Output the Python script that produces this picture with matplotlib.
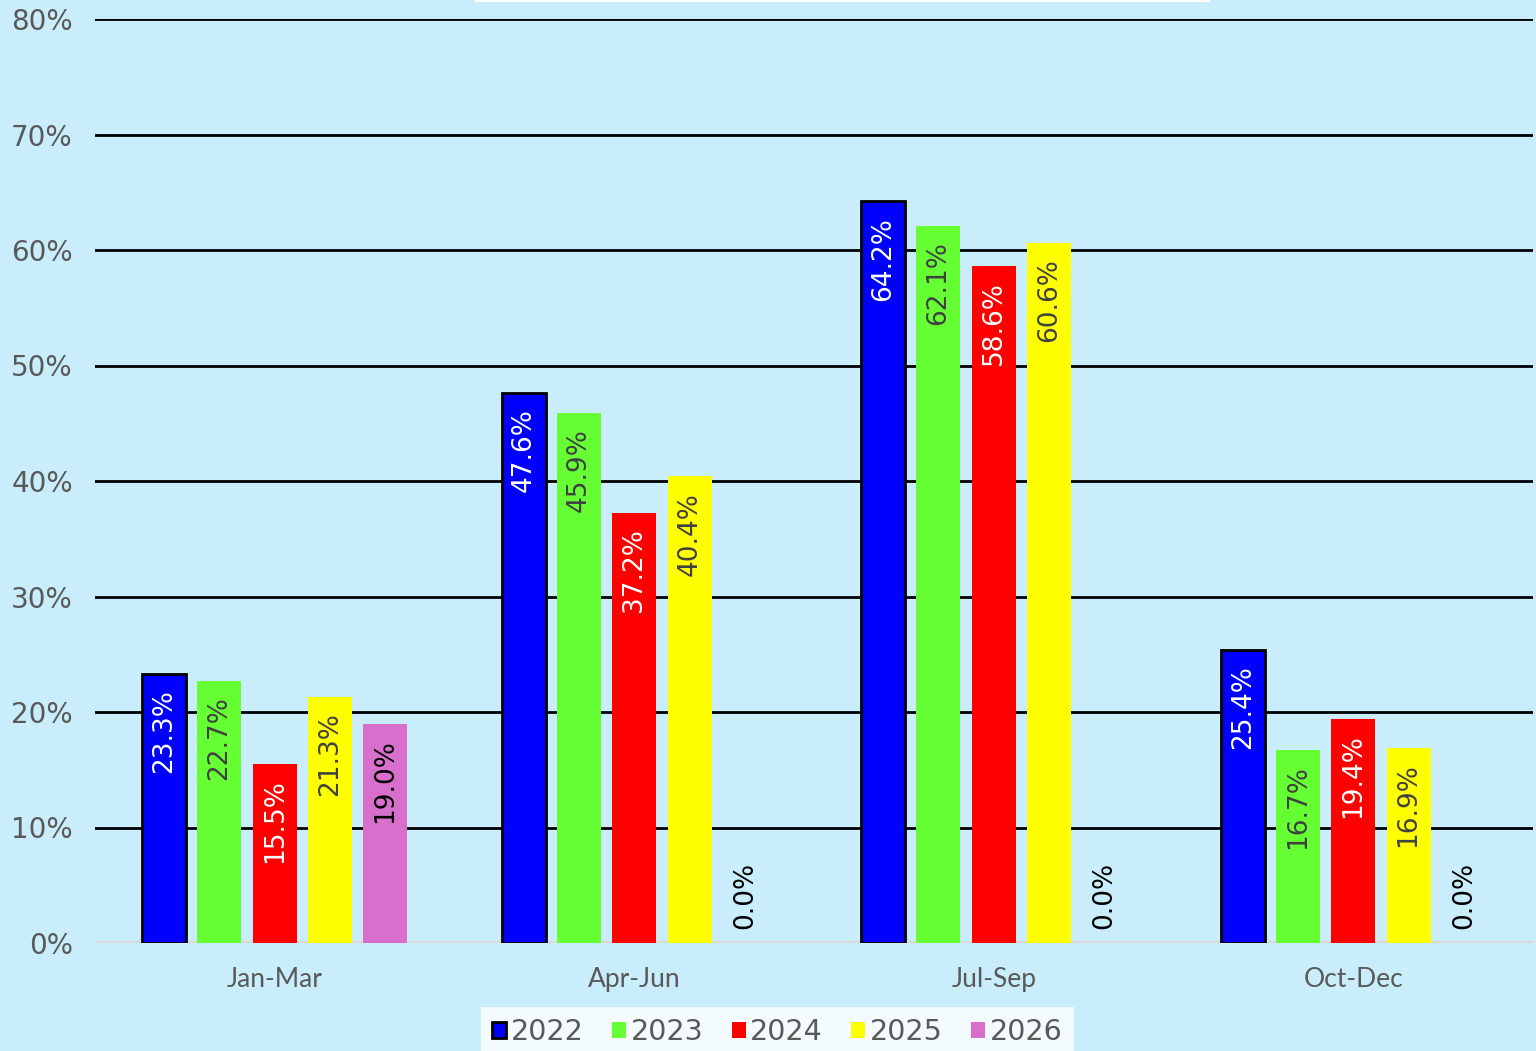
import matplotlib.pyplot as plt
import matplotlib.patches as mpatches
import numpy as np

# Datos
quarters = ["Jan-Mar", "Apr-Jun", "Jul-Sep", "Oct-Dec"]
years = ["2022", "2023", "2024", "2025", "2026"]
v2022 = [23.3, 47.6, 64.2, 25.4]
v2023 = [22.7, 45.9, 62.1, 16.7]
v2024 = [15.5, 37.2, 58.6, 19.4]
v2025 = [21.3, 40.4, 60.6, 16.9]
v2026 = [19.0, 0.0, 0.0, 0.0]
series = [v2022, v2023, v2024, v2025, v2026]

colors = ["#0000FF", "#66FF33", "#FF0000", "#FFFF00", "#D86FCC"]
edges = ["black", "none", "none", "none", "none"]
label_colors = ["white", "#404040", "white", "#404040", "black"]
bg = "#C9EDFB"

plt.rcParams['font.family'] = ['DejaVu Sans']

fig = plt.figure(figsize=(15.36, 10.51), dpi=100, facecolor=bg)
ax = fig.add_axes([95 / 1536, 108 / 1051, 1438 / 1536, (943 - 19) / 1051])
ax.set_facecolor(bg)

x = np.arange(len(quarters))
step = 0.1538
width = 0.1225

handles = []
for i, vals in enumerate(series):
    pos = x + (i - 2) * step
    bars = ax.bar(pos, vals, width, color=colors[i], edgecolor=edges[i],
                  linewidth=2 if edges[i] != "none" else 0, zorder=3, label=years[i])
    handles.append(bars)
    for xp, v in zip(pos, vals):
        txt = f"{v:.1f}%"
        if v == 0:
            ax.annotate(txt, (xp, 0), xytext=(0, 10), textcoords="offset points",
                        rotation=90, ha="center", va="bottom", fontsize=19,
                        color="black", zorder=4)
        else:
            ax.annotate(txt, (xp, v), xytext=(0, -11), textcoords="offset points",
                        rotation=90, ha="center", va="top", fontsize=19,
                        color=label_colors[i], zorder=4)

ax.set_xlim(-0.5, 3.5)
ax.set_ylim(0, 80)
ax.set_yticks(range(0, 81, 10))
ax.set_yticklabels([f"{t}%" for t in range(0, 81, 10)], fontsize=20, color="#595959")
ax.set_xticks(x)
ax.set_xticklabels(quarters, fontsize=19, color="#595959", family="Lato")
ax.tick_params(axis="both", length=0)
ax.tick_params(axis="y", pad=16)
ax.tick_params(axis="x", pad=17)
ax.grid(axis="y", color="black", linewidth=2, zorder=0)
for s in ax.spines.values():
    s.set_visible(False)
ax.axhline(0, color="#D9D9D9", linewidth=3, zorder=2)

# caja blanca del titulo (recortada arriba)
fig.patches.append(mpatches.Rectangle((475 / 1536, 1 - 2 / 1051), 735 / 1536, 0.01,
                                      transform=fig.transFigure, facecolor="white",
                                      edgecolor="none"))

leg = fig.legend(handles=handles, loc="lower center", bbox_to_anchor=(0.506, -0.02),
                 ncol=5, fontsize=20.5, frameon=True, fancybox=False,
                 handlelength=0.5, handleheight=0.5, handletextpad=0.15,
                 columnspacing=1.0, borderpad=0.4)
leg.get_frame().set_facecolor("white")
leg.get_frame().set_edgecolor("none")
for t in leg.get_texts():
    t.set_color("#595959")

fig.savefig("out.png", dpi=100, facecolor=bg)
